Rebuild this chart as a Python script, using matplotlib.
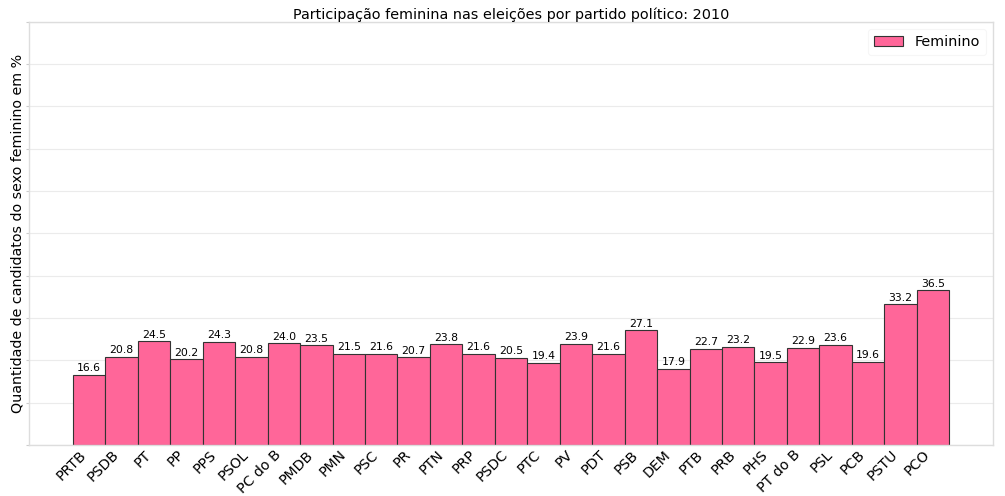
import matplotlib
matplotlib.use("Agg")
from matplotlib import pyplot as plt
import numpy as np

partidos = [
    "PRTB", "PSDB", "PT", "PP", "PPS", "PSOL", "PC do B", "PMDB", "PMN",
    "PSC", "PR", "PTN", "PRP", "PSDC", "PTC", "PV", "PDT", "PSB", "DEM",
    "PTB", "PRB", "PHS", "PT do B", "PSL", "PCB", "PSTU", "PCO",
]
feminino = [
    16.6, 20.8, 24.5, 20.2, 24.3, 20.8, 24.0, 23.5, 21.5,
    21.6, 20.7, 23.8, 21.6, 20.5, 19.4, 23.9, 21.6, 27.1, 17.9,
    22.7, 23.2, 19.5, 22.9, 23.6, 19.6, 33.2, 36.5,
]
yticks = list(range(0, 101, 10))

fig = plt.figure(figsize=(10.05, 4.96), dpi=100, facecolor="white")
ax = fig.add_axes([0.029, 0.103, 0.959, 0.853])

x = np.arange(len(partidos))
bars = ax.bar(x, feminino, width=1.0, color="#ff6699",
              edgecolor="#333333", linewidth=0.8, label="Feminino")

for rect, val in zip(bars, feminino):
    ax.text(rect.get_x() + rect.get_width() / 2, rect.get_height() + 0.4,
            f"{val:.1f}", ha="center", va="bottom", fontsize=7.8)

ax.set_xlim(-1.85, 27.85)
ax.set_ylim(0, 100)
ax.set_yticks(yticks)
ax.set_yticklabels([])
ax.grid(axis="y", color="#ebebeb", linewidth=0.8)
ax.set_axisbelow(True)
ax.tick_params(axis="y", length=2, color="#cccccc")
ax.tick_params(axis="x", length=0, pad=2)
ax.set_xticks(x)
ax.set_xticklabels(partidos, rotation=45, ha="right", fontsize=10.2)

for side in ("left", "bottom", "top", "right"):
    ax.spines[side].set_color("#dddddd")
    ax.spines[side].set_linewidth(1.0)

ax.set_ylabel("Quantidade de candidatos do sexo feminino em %",
              fontsize=10.3, labelpad=-2.5)
ax.set_title("Participação feminina nas eleições por partido político: 2010",
             fontsize=10.4, pad=2)

leg = ax.legend(loc="upper right", fontsize=10.4, frameon=True)
leg.get_frame().set_edgecolor("#f4f4f4")
leg.get_frame().set_linewidth(0.8)

fig.savefig("out.png", dpi=100)
